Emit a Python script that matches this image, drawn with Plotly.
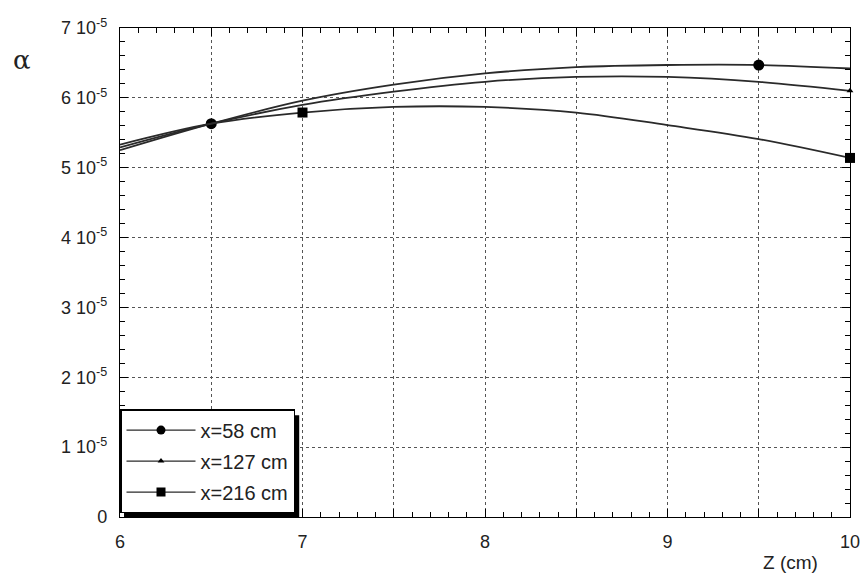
import plotly.graph_objects as go

z = [6.0, 6.5, 7.0, 7.5, 8.0, 8.5, 9.0, 9.5, 10.0]
a58 = [5.25e-5, 5.63e-5, 5.96e-5, 6.19e-5, 6.35e-5, 6.44e-5, 6.47e-5, 6.47e-5, 6.42e-5]
a127 = [5.29e-5, 5.63e-5, 5.90e-5, 6.09e-5, 6.23e-5, 6.30e-5, 6.30e-5, 6.23e-5, 6.10e-5]
a216 = [5.33e-5, 5.63e-5, 5.79e-5, 5.87e-5, 5.87e-5, 5.79e-5, 5.61e-5, 5.41e-5, 5.14e-5]

m58_z, m58_a = [6.5, 9.5], [5.63e-5, 6.47e-5]
m127_z, m127_a = [10.0], [6.10e-5]
m216_z, m216_a = [7.0, 10.0], [5.79e-5, 5.14e-5]

names = ["x=58 cm", "x=127 cm", "x=216 cm"]
symbols = ["circle", "triangle-up", "square"]
sizes = [11, 6, 10]
legend_sizes = [9, 6, 9]

ytick_vals = [0, 1e-5, 2e-5, 3e-5, 4e-5, 5e-5, 6e-5, 7e-5]
ytick_text = ["0"] + [f"{i} 10<sup>-5</sup>" for i in range(1, 8)]
xtick_vals = [6, 6.5, 7, 7.5, 8, 8.5, 9, 9.5, 10]
xtick_text = ["6", "", "7", "", "8", "", "9", "", "10"]

LC = "#2a2a2a"
FONT = "Liberation Sans, Arial, sans-serif"
fig = go.Figure()
curves = [(a58, m58_z, m58_a), (a127, m127_z, m127_a), (a216, m216_z, m216_a)]
for i, (a, mz, ma) in enumerate(curves):
    fig.add_trace(go.Scatter(x=z, y=a, mode="lines", line=dict(color=LC, width=1.8, shape="spline"),
                             showlegend=False, hoverinfo="skip"))
    fig.add_trace(go.Scatter(x=mz, y=ma, mode="markers", cliponaxis=False,
                             marker=dict(symbol=symbols[i], size=sizes[i], color="black"),
                             showlegend=False))
    fig.add_trace(go.Scatter(x=[None], y=[None], mode="lines+markers", name=names[i],
                             legendgroup=f"g{i}",
                             line=dict(color=LC, width=1.2),
                             marker=dict(symbol=symbols[i], size=legend_sizes[i], color="black")))

fig.update_layout(
    width=862, height=582,
    margin=dict(l=120, r=12, t=28, b=65),
    paper_bgcolor="white", plot_bgcolor="white",
    font=dict(family=FONT, size=18, color="#222"),
    showlegend=True,
    legend=dict(x=0.0, y=0.008, xanchor="left", yanchor="bottom",
                bgcolor="white", bordercolor="black", borderwidth=1.5,
                font=dict(size=20, family=FONT, color="#222"), tracegroupgap=2, itemwidth=69),
    xaxis=dict(range=[6, 10], tickvals=xtick_vals, ticktext=xtick_text, automargin=False,
               tickfont=dict(size=18, family=FONT, color="#222"),
               showgrid=True, gridcolor="#555", griddash="dot", gridwidth=1,
               showline=True, linecolor="black", linewidth=1.2, mirror="ticks",
               ticks="inside", ticklen=8, tickcolor="black",
               minor=dict(ticks="inside", ticklen=5, dtick=0.1, tickcolor="black", showgrid=False),
               zeroline=False, ticklabelstandoff=8),
    yaxis=dict(range=[0, 7e-5], tickvals=ytick_vals, ticktext=ytick_text, automargin=False,
               tickfont=dict(size=18, family=FONT, color="#222"),
               showgrid=True, gridcolor="#555", griddash="dot", gridwidth=1,
               showline=True, linecolor="black", linewidth=1.2, mirror="ticks",
               ticks="inside", ticklen=8, tickcolor="black",
               minor=dict(ticks="inside", ticklen=5, dtick=0.2e-5, tickcolor="black", showgrid=False),
               zeroline=False, ticklabelstandoff=8),
)

fig.add_shape(type="rect", xref="paper", yref="paper", x0=0.0055, x1=0.2455, y0=-0.0002, y1=0.208,
              fillcolor="black", line=dict(width=0), layer="above")

fig.add_annotation(text="α", xref="paper", yref="paper", x=-0.134, y=0.934,
                   xanchor="center", yanchor="middle",
                   showarrow=False, font=dict(size=26, family="DejaVu Serif, serif", color="#222"))
fig.add_annotation(text="Z (cm)", xref="paper", yref="paper", x=0.918, y=-0.094,
                   xanchor="center", yanchor="middle",
                   showarrow=False, font=dict(size=19, family=FONT, color="#222"))

fig.write_html("out.html")
